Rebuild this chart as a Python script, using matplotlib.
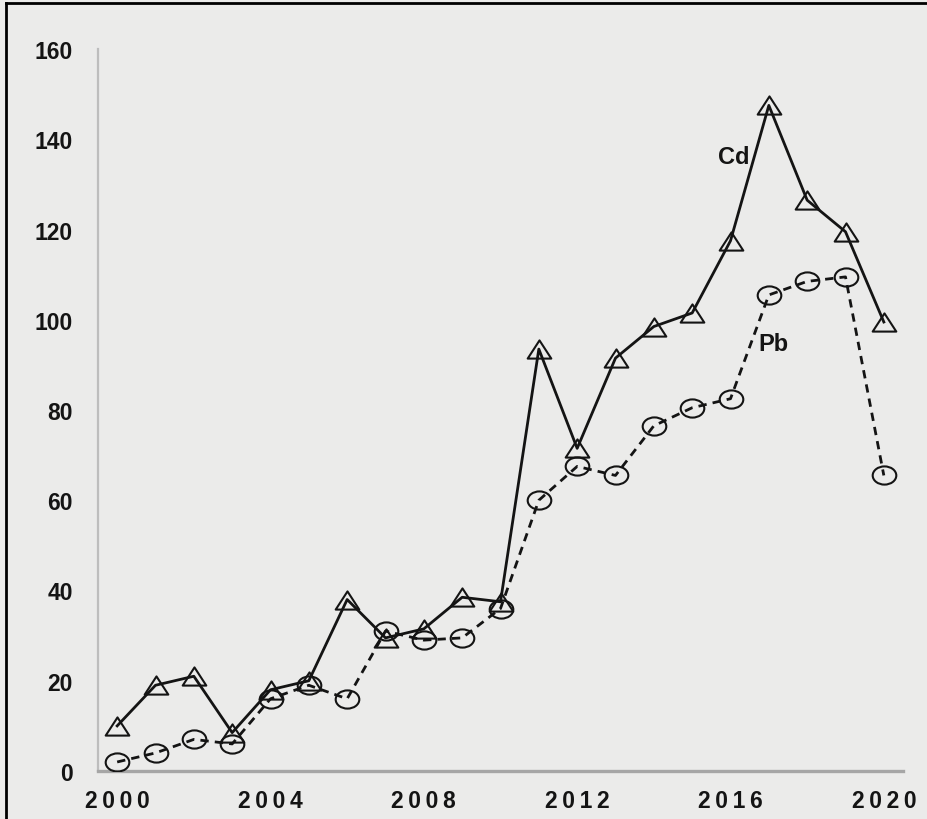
import matplotlib
matplotlib.use("Agg")
import matplotlib.pyplot as plt
import numpy as np
from matplotlib.lines import Line2D
from matplotlib.path import Path

plt.rcParams["font.family"] = ["Liberation Sans", "DejaVu Sans"]

years = list(range(2000, 2021))
cd = [10, 19, 21, 8.5, 18, 20, 38, 29.5, 31.5, 38.5, 37.5,
      93.5, 71.5, 91.5, 98.5, 101.5, 117.5, 147.5, 126.5, 119.5, 99.5]
pb = [2, 4, 7, 6, 16, 19, 16, 31, 29, 29.5, 36,
      60, 67.5, 65.5, 76.5, 80.5, 82.5, 105.5, 108.5, 109.5, 65.5]
xticks = [2000, 2004, 2008, 2012, 2016, 2020]
yticks = list(range(0, 161, 20))

bg = "#ebebea"
ink = "#141414"

# slightly flattened hollow markers
tri = Path([(-1, -0.77), (1, -0.77), (0, 0.77), (-1, -0.77)],
           [Path.MOVETO, Path.LINETO, Path.LINETO, Path.CLOSEPOLY])
circ = Path(Path.unit_circle().vertices * [1, 0.77], Path.unit_circle().codes)

fig = plt.figure(figsize=(9.27, 8.2), dpi=100, facecolor=bg)
ax = fig.add_axes([98 / 927, 48 / 820, 805 / 927, 722 / 820], facecolor=bg)

ax.plot(years, cd, color=ink, lw=2.0, marker=tri, ms=17, mfc="none",
        mec=ink, mew=1.5, zorder=3)
ax.plot(years, pb, color=ink, lw=2.0, linestyle=(0, (3, 2.2)), marker=circ,
        ms=17, mfc="none", mec=ink, mew=1.5, zorder=3)

ax.text(2016.08, 136.2, "Cd", fontsize=17, fontweight="bold", color=ink,
        ha="center", va="center")
ax.text(2017.13, 94.8, "Pb", fontsize=17, fontweight="bold", color=ink,
        ha="center", va="center")

ax.set_xlim(1999.5, 2020.5)
ax.set_ylim(0, 160)
ax.set_xticks(xticks)
ax.set_xticklabels(["\u2009".join(str(y)) for y in xticks])
ax.set_yticks(yticks)
ax.tick_params(axis="both", length=0, labelsize=16.5, labelcolor=ink)
ax.tick_params(axis="x", pad=13)
ax.tick_params(axis="y", pad=18)
for lab in ax.get_xticklabels() + ax.get_yticklabels():
    lab.set_fontweight("bold")

for side in ["top", "right"]:
    ax.spines[side].set_visible(False)
ax.spines["left"].set_color("#bdbdbd")
ax.spines["left"].set_linewidth(1.6)
ax.spines["bottom"].set_color("#a6a6a6")
ax.spines["bottom"].set_linewidth(2.4)

# black border along the top and left edges
fig.add_artist(Line2D([6 / 927, 1], [1 - 4 / 820, 1 - 4 / 820],
                      transform=fig.transFigure, color="black", lw=2))
fig.add_artist(Line2D([6 / 927, 6 / 927], [0, 1 - 4 / 820],
                      transform=fig.transFigure, color="black", lw=2))

fig.savefig("out.png", dpi=100, facecolor=bg)
